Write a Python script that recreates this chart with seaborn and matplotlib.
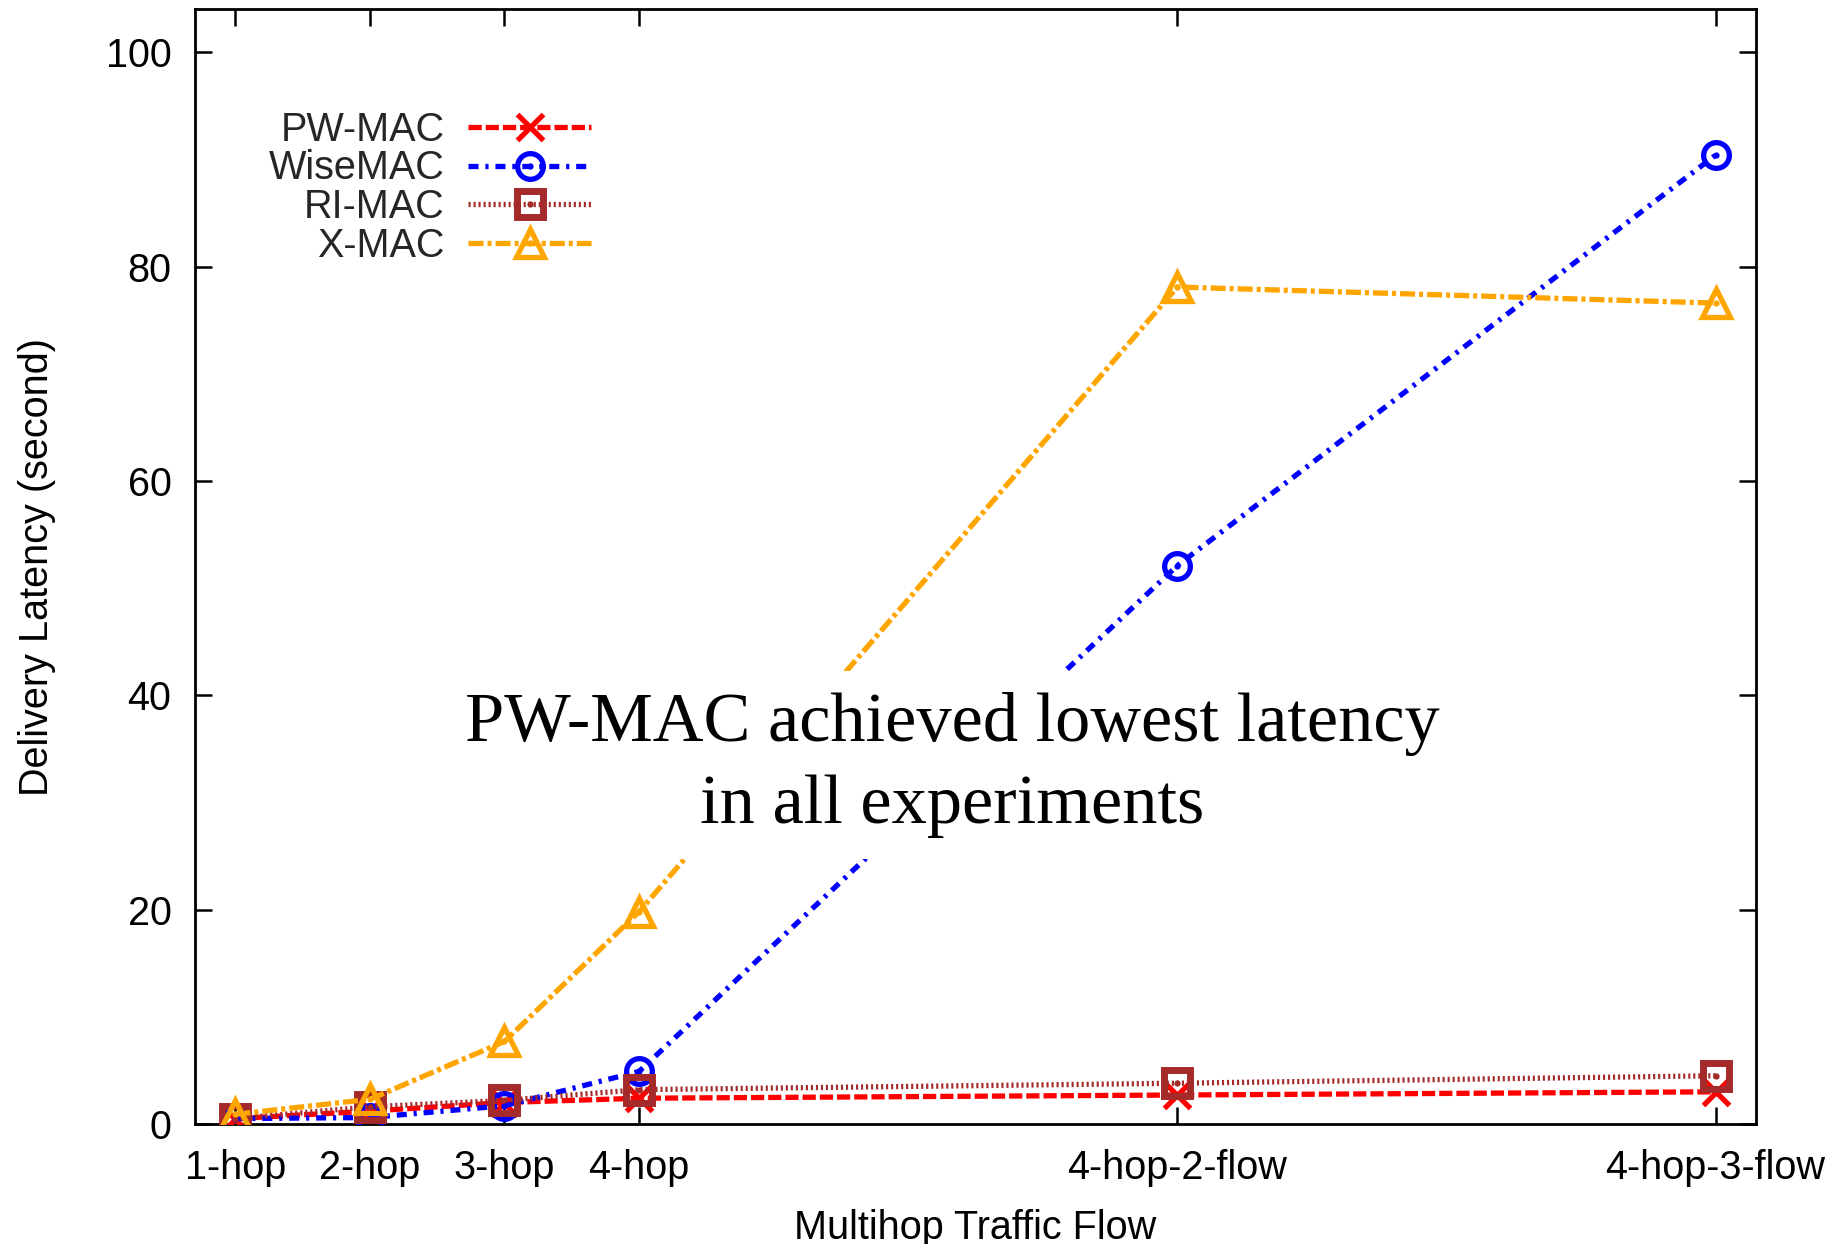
import matplotlib
matplotlib.use("Agg")
import matplotlib.pyplot as plt
import seaborn as sns
import pandas as pd
from matplotlib.lines import Line2D
from matplotlib.legend_handler import HandlerTuple

# ---------------- data ----------------
categories = ["1-hop", "2-hop", "3-hop", "4-hop", "4-hop-2-flow", "4-hop-3-flow"]
x_values = [1, 2, 3, 4, 8, 12]
pw_mac = [0.5, 1.2, 2.0, 2.4, 2.7, 3.0]
wise_mac = [0.5, 0.6, 1.7, 4.9, 52.1, 90.4]
ri_mac = [0.5, 1.6, 2.2, 3.2, 3.8, 4.5]
x_mac = [0.9, 2.3, 7.7, 19.8, 78.1, 76.6]
series_names = ["PW-MAC", "WiseMAC", "RI-MAC", "X-MAC"]
annotation = "PW-MAC achieved lowest latency\nin all experiments"

sns.set_theme(style="white")
plt.rcParams["font.family"] = ["Liberation Sans", "DejaVu Sans"]

fig = plt.figure(figsize=(18.45, 12.44), dpi=100)
ax = fig.add_axes([0.1057, 0.0965, 0.9517 - 0.1057, 0.9924 - 0.0965])

LW = 3.8
FS = 28.5
styles = {
    "PW-MAC": dict(color="#FF0000", ls=(0, (2.5, 0.76)), marker="x", ms=19, mew=3.8, dot=False),
    "WiseMAC": dict(color="#0000FF", ls=(0, (1.9, 1.3, 0.6, 1.3)), marker="o", ms=18.5, mew=3.8, dot=True),
    "RI-MAC": dict(color="#A52A2A", ls=(0, (0.4, 0.55)), marker="s", ms=19, mew=5.0, dot=True),
    "X-MAC": dict(color="#FFA500", ls=(0, (2.85, 0.76, 0.76, 0.76)), marker="^", ms=20, mew=3.8, dot=True),
}
values = {"PW-MAC": pw_mac, "WiseMAC": wise_mac, "RI-MAC": ri_mac, "X-MAC": x_mac}

handles = []
for i, name in enumerate(series_names):
    st = styles[name]
    df = pd.DataFrame({"x": x_values, "y": values[name]})
    sns.lineplot(data=df, x="x", y="y", ax=ax, color=st["color"], linestyle=st["ls"],
                 linewidth=LW, marker=st["marker"], markersize=st["ms"],
                 markeredgewidth=st["mew"], markerfacecolor="none",
                 markeredgecolor=st["color"], zorder=3 + i, legend=False,
                 errorbar=None, sort=False)
    h_line = Line2D([], [], color=st["color"], linestyle=st["ls"], linewidth=LW,
                    marker=st["marker"], markersize=st["ms"], markeredgewidth=st["mew"],
                    markerfacecolor="none", markeredgecolor=st["color"])
    if st["dot"]:
        sns.lineplot(data=df, x="x", y="y", ax=ax, color=st["color"], linestyle="none",
                     marker="o", markersize=4.5, markeredgewidth=0, zorder=3 + i,
                     legend=False, errorbar=None, sort=False)
        h_dot = Line2D([], [], color=st["color"], linestyle="none", marker="o",
                       markersize=4.5, markeredgewidth=0)
        handles.append((h_line, h_dot))
    else:
        handles.append(h_line)

ax.set_xlim(0.7, 12.3)
ax.set_ylim(0, 104)
ax.set_xticks(x_values)
ax.set_xticklabels(categories)
ax.set_yticks([0, 20, 40, 60, 80, 100])

for sp in ax.spines.values():
    sp.set_visible(True)
    sp.set_color("black")
    sp.set_linewidth(2.0)

ax.tick_params(axis="both", which="major", direction="in", length=12, width=1.8,
               color="black", labelsize=FS, labelcolor="black",
               top=True, right=True, bottom=True, left=True)
ax.tick_params(axis="y", pad=17)
ax.tick_params(axis="x", pad=18)

ax.set_xlabel("Multihop Traffic Flow", fontsize=FS, color="black")
ax.set_ylabel("Delivery Latency (second)", fontsize=FS, color="black")
ax.xaxis.set_label_coords(0.5, -0.076)
ax.yaxis.set_label_coords(-0.0889, 0.5)
ax.xaxis.label.set_verticalalignment("top")

ax.text(6.33, 33.5, annotation, ha="center", va="center", multialignment="center",
        fontsize=50.7, family=["Liberation Serif", "DejaVu Serif"], color="black",
        zorder=20, linespacing=1.375,
        bbox=dict(boxstyle="square,pad=0.3", facecolor="white", edgecolor="none"))

leg = fig.legend(handles, series_names, loc="upper right",
                 bbox_to_anchor=(0.331, 0.927), frameon=False, markerfirst=False,
                 fontsize=FS, handlelength=3.1, handletextpad=0.6,
                 labelspacing=0.02, borderpad=0, numpoints=1,
                 handler_map={tuple: HandlerTuple(ndivide=1, pad=0)})

fig.savefig("out.png", dpi=100)
